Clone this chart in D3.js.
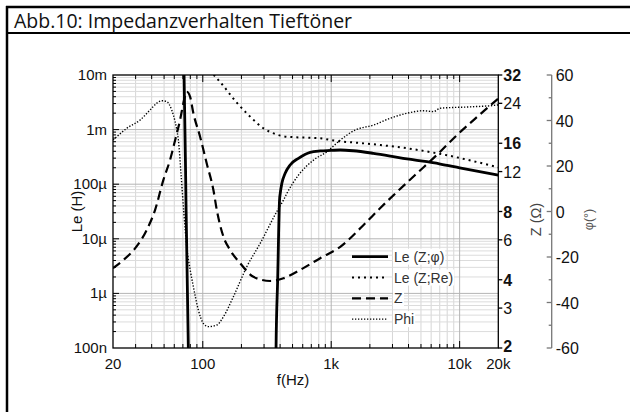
<!DOCTYPE html>
<html>
<head>
<meta charset="utf-8">
<script src="https://cdn.jsdelivr.net/npm/d3@7"></script>
<style>
  body { margin: 0; background: #fff; }
  svg { display: block; }
</style>
</head>
<body>
<svg id="chart" width="630" height="412"></svg>
<script>
// ---- axis ticks ----
const freqTicks = [20, 100, 1000, 10000, 20000];
const freqTickLabels = ["20", "100", "1k", "10k", "20k"];
const leTicks = [1e-7, 1e-6, 1e-5, 1e-4, 1e-3, 1e-2];
const leTickLabels = ["100n", "1µ", "10µ", "100µ", "1m", "10m"];
const zTicks = [2, 3, 4, 6, 8, 12, 16, 24, 32];
const zMajorTicks = [2, 4, 8, 16, 32];
const phiTicks = [-60, -40, -20, 0, 20, 40, 60];
const phiMinorTicks = [-50, -30, -10, 10, 30, 50];

// ---- measured series: [frequency in Hz, value] ----
// Le from |Z| and phase (H); two branches, undefined where phase < 0
const leZphiLow = [[70.5, 2e-2], [71.5, 1e-2], [74.2, 3.2e-5], [77.2, 1e-7], [77.6, 5e-8]];
const leZphiHigh = [[371, 5e-8], [372, 1e-7], [383, 1.8e-6], [396, 5.1e-5], [401, 6.8e-5],
  [413, 1.04e-4], [438, 1.58e-4], [479, 2.25e-4], [556, 2.98e-4], [686, 3.84e-4],
  [821, 4.06e-4], [1000, 4.15e-4], [1176, 4.23e-4], [1485, 4.1e-4], [2126, 3.68e-4],
  [2885, 3.28e-4], [3892, 2.9e-4], [5573, 2.58e-4], [7076, 2.34e-4], [10000, 2.0e-4],
  [20000, 1.47e-4]];
// Le from |Z| and Re (H)
const leZre = [[118, 1.3e-2], [122.5, 1e-2], [128.7, 8.7e-3], [140.7, 6.84e-3], [184, 3.11e-3],
  [220, 1.99e-3], [241, 1.61e-3], [297, 1.06e-3], [366, 8.3e-4], [452, 7.41e-4],
  [647, 7.11e-4], [821, 6.93e-4], [1108, 6.18e-4], [1587, 5.75e-4], [2411, 5.22e-4],
  [3892, 4.55e-4], [6670, 3.68e-4], [20000, 2.04e-4]];
// impedance magnitude (Ohm)
const zMag = [[20, 4.5], [24.1, 4.89], [29.7, 5.5], [36.6, 6.63], [42.5, 8.12], [49.3, 11.0],
  [55.6, 13.5], [60.9, 16.5], [66.6, 20.3], [71.5, 24.8], [75, 27.0], [79.6, 25.7],
  [84.5, 21.7], [95.3, 17.1], [107.5, 13.0], [121, 9.95], [128.7, 8.1], [144.8, 6.2],
  [163.3, 5.41], [195.4, 4.73], [248, 4.12], [334.6, 3.95], [425, 4.06], [573.5, 4.42],
  [821, 4.98], [1176, 5.59], [1787, 6.98], [2411, 8.29], [3252, 9.76], [4658, 11.8],
  [6466, 14.0], [9550, 17.4], [13670, 20.9], [20000, 25.2]];
// impedance phase (degrees)
const phiDeg = [[20, 31.5], [20.7, 32.2], [25.6, 36.6], [32.5, 40.2], [38.8, 44.6], [43.8, 47.6],
  [47.9, 48.7], [52.4, 48.3], [57.3, 44.6], [60.9, 39.5], [62.8, 35.8], [64.6, 31.4],
  [67.8, 16], [71.1, 0], [75, -15.5], [80, -26], [84.5, -33.1], [92.4, -43.3], [101, -49.2],
  [110.6, -50.6], [128.7, -49.9], [144.8, -46.3], [173, -37.5], [220, -24.3], [280, -14],
  [379, 0.2], [425, 5], [452, 8], [556, 16], [728, 22.6], [927, 26.3], [1176, 31.4],
  [1539, 35.8], [2137, 38], [2885, 41], [3892, 43.2], [5247, 44.3], [6240, 43.9],
  [7076, 45.4], [12130, 46], [19580, 46.8], [20000, 46.9]];

const legendItems = [
  { label: "Le (Z;φ)", dash: null, width: 2.8 },
  { label: "Le (Z;Re)", dash: "2,4", width: 2 },
  { label: "Z", dash: "9,5", width: 2.2 },
  { label: "Phi", dash: "1.3,1.7", width: 1.4 }
];

// ---- layout ----
const svg = d3.select("#chart");
const L = 113, R = 498.3, T = 75, B = 348;
const PHI_X = 551.7;

const x = d3.scaleLog().domain([20, 20000]).range([L, R]);
const yLe = d3.scaleLog().domain([1e-7, 1e-2]).range([B, T]);
const yZ = d3.scaleLog().base(2).domain([2, 32]).range([B, T]);
const yPhi = d3.scaleLinear().domain([-60, 60]).range([B, T]);

const AX_FONT = "'Liberation Sans', Arial, sans-serif";

// ---- outer frame and title ----
svg.append("line").attr("x1", 6).attr("x2", 630).attr("y1", 7).attr("y2", 7)
  .attr("stroke", "#000").attr("stroke-width", 2.5);
svg.append("line").attr("x1", 6).attr("x2", 630).attr("y1", 33).attr("y2", 33)
  .attr("stroke", "#000").attr("stroke-width", 2);
svg.append("line").attr("x1", 7).attr("x2", 7).attr("y1", 6).attr("y2", 412)
  .attr("stroke", "#000").attr("stroke-width", 2.5);
svg.append("text").attr("x", 14).attr("y", 28)
  .attr("font-family", "'Open Sans', sans-serif").attr("font-size", 19.5)
  .attr("fill", "#111").text("Abb.10: Impedanzverhalten Tieftöner");

// ---- grid ----
const xMinor = [];
[10, 100, 1000, 10000].forEach(d => { for (let m = 2; m <= 9; m++) { const v = d * m; if (v > 20 && v < 20000) xMinor.push(v); } });
const xMajor = [100, 1000, 10000];
const leMinor = [];
[1e-7, 1e-6, 1e-5, 1e-4, 1e-3].forEach(d => { for (let m = 2; m <= 9; m++) leMinor.push(d * m); });
const leMajor = [1e-6, 1e-5, 1e-4, 1e-3];

const grid = svg.append("g");
grid.selectAll(".gxm").data(xMinor).join("line")
  .attr("x1", d => x(d)).attr("x2", d => x(d)).attr("y1", T).attr("y2", B)
  .attr("stroke", "#d6d6d6").attr("stroke-width", 1);
grid.selectAll(".gym").data(leMinor).join("line")
  .attr("x1", L).attr("x2", R).attr("y1", d => yLe(d)).attr("y2", d => yLe(d))
  .attr("stroke", "#dcdcdc").attr("stroke-width", 1);
grid.selectAll(".gxM").data(xMajor).join("line")
  .attr("x1", d => x(d)).attr("x2", d => x(d)).attr("y1", T).attr("y2", B)
  .attr("stroke", "#b4b4b4").attr("stroke-width", 1);
grid.selectAll(".gyM").data(leMajor).join("line")
  .attr("x1", L).attr("x2", R).attr("y1", d => yLe(d)).attr("y2", d => yLe(d))
  .attr("stroke", "#b4b4b4").attr("stroke-width", 1);

// ---- inner ticks on the plot frame ----
const ticks = svg.append("g").attr("stroke", "#000").attr("stroke-width", 1);
xMinor.forEach(v => {
  ticks.append("line").attr("x1", x(v)).attr("x2", x(v)).attr("y1", B).attr("y2", B - 4);
  ticks.append("line").attr("x1", x(v)).attr("x2", x(v)).attr("y1", T).attr("y2", T + 4);
});
xMajor.forEach(v => {
  ticks.append("line").attr("x1", x(v)).attr("x2", x(v)).attr("y1", B).attr("y2", B - 7);
  ticks.append("line").attr("x1", x(v)).attr("x2", x(v)).attr("y1", T).attr("y2", T + 7);
});
leMinor.forEach(v => ticks.append("line").attr("x1", L).attr("x2", L + 3).attr("y1", yLe(v)).attr("y2", yLe(v)));
leMajor.forEach(v => ticks.append("line").attr("x1", L).attr("x2", L + 6).attr("y1", yLe(v)).attr("y2", yLe(v)));

// ---- curves ----
svg.append("clipPath").attr("id", "plotClip")
  .append("rect").attr("x", L).attr("y", T).attr("width", R - L).attr("height", B - T);
const plot = svg.append("g").attr("clip-path", "url(#plotClip)");

const lineLe = d3.line().x(d => x(d[0])).y(d => yLe(d[1])).curve(d3.curveMonotoneX);
const lineZ = d3.line().x(d => x(d[0])).y(d => yZ(d[1])).curve(d3.curveMonotoneX);
const linePhi = d3.line().x(d => x(d[0])).y(d => yPhi(d[1])).curve(d3.curveMonotoneX);

plot.append("path").attr("d", linePhi(phiDeg)).attr("fill", "none").attr("stroke", "#000")
  .attr("stroke-width", legendItems[3].width).attr("stroke-dasharray", legendItems[3].dash);
plot.append("path").attr("d", lineLe(leZre)).attr("fill", "none").attr("stroke", "#000")
  .attr("stroke-width", legendItems[1].width).attr("stroke-dasharray", legendItems[1].dash);
plot.append("path").attr("d", lineZ(zMag)).attr("fill", "none").attr("stroke", "#000")
  .attr("stroke-width", legendItems[2].width).attr("stroke-dasharray", legendItems[2].dash);
[leZphiLow, leZphiHigh].forEach(seg => {
  plot.append("path").attr("d", lineLe(seg)).attr("fill", "none").attr("stroke", "#000")
    .attr("stroke-width", legendItems[0].width);
});

// ---- plot frame ----
svg.append("rect").attr("x", L).attr("y", T).attr("width", R - L).attr("height", B - T)
  .attr("fill", "none").attr("stroke", "#000").attr("stroke-width", 1.3);

// ---- bottom axis labels ----
svg.append("g").selectAll("text").data(freqTicks).join("text")
  .attr("x", d => x(d)).attr("y", B + 20.5).attr("text-anchor", "middle")
  .attr("font-family", AX_FONT).attr("font-size", 15).attr("fill", "#111")
  .text((d, i) => freqTickLabels[i]);
svg.append("text").attr("x", 293).attr("y", 385).attr("text-anchor", "middle")
  .attr("font-family", AX_FONT).attr("font-size", 15).attr("fill", "#111").text("f(Hz)");

// ---- left axis labels ----
svg.append("g").selectAll("text").data(leTicks).join("text")
  .attr("x", L - 6).attr("y", d => yLe(d) + 5).attr("text-anchor", "end")
  .attr("font-family", AX_FONT).attr("font-size", 15).attr("fill", "#111")
  .text((d, i) => leTickLabels[i]);
svg.append("text").attr("transform", `translate(82,${(T + B) / 2}) rotate(-90)`)
  .attr("text-anchor", "middle").attr("font-family", AX_FONT).attr("font-size", 15)
  .attr("fill", "#111").text("Le (H)");

// ---- right impedance axis ----
const zAxis = svg.append("g");
zTicks.forEach(v => {
  const major = zMajorTicks.includes(v);
  zAxis.append("line").attr("x1", R).attr("x2", R + 4).attr("y1", yZ(v)).attr("y2", yZ(v))
    .attr("stroke", "#000").attr("stroke-width", 1.3);
  zAxis.append("text").attr("x", R + 5).attr("y", yZ(v) + (v === 2 ? 3.5 : 6))
    .attr("font-family", AX_FONT).attr("font-size", 16).attr("fill", "#111")
    .attr("font-weight", major ? "bold" : "normal").text(v);
});
svg.append("text").attr("transform", `translate(541,${(T + B) / 2 + 8}) rotate(-90)`)
  .attr("text-anchor", "middle").attr("font-family", AX_FONT).attr("font-size", 14.5)
  .attr("fill", "#444").text("Z (Ω)");

// ---- phase axis ----
const phiAxis = svg.append("g");
phiAxis.append("line").attr("x1", PHI_X).attr("x2", PHI_X).attr("y1", T).attr("y2", B)
  .attr("stroke", "#777").attr("stroke-width", 1.3);
phiTicks.forEach(v => {
  phiAxis.append("line").attr("x1", PHI_X - 5).attr("x2", PHI_X).attr("y1", yPhi(v)).attr("y2", yPhi(v))
    .attr("stroke", "#777").attr("stroke-width", 1.3);
  phiAxis.append("text").attr("x", PHI_X + 4).attr("y", yPhi(v) + 6)
    .attr("font-family", AX_FONT).attr("font-size", 16).attr("fill", "#111").text(v);
});
phiMinorTicks.forEach(v => {
  phiAxis.append("line").attr("x1", PHI_X - 3).attr("x2", PHI_X).attr("y1", yPhi(v)).attr("y2", yPhi(v))
    .attr("stroke", "#777").attr("stroke-width", 1.3);
});
svg.append("text").attr("transform", `translate(593,${(T + B) / 2 + 8}) rotate(-90)`)
  .attr("text-anchor", "middle").attr("font-family", AX_FONT).attr("font-size", 12.5)
  .attr("fill", "#555").text("φ(°)");

// ---- legend ----
const legend = svg.append("g");
legendItems.forEach((it, i) => {
  const cy = 256.7 + i * 20.8;
  const t = legend.append("text").attr("x", 394).attr("y", cy + 5)
    .attr("font-family", AX_FONT).attr("font-size", 14).attr("fill", "#333").text(it.label);
  const bb = t.node().getBBox();
  legend.insert("rect", "text").attr("x", bb.x - 1).attr("y", bb.y).attr("width", bb.width + 2)
    .attr("height", bb.height).attr("fill", "#fff");
  const ln = legend.append("line").attr("x1", 352).attr("x2", 388).attr("y1", cy).attr("y2", cy)
    .attr("stroke", "#000").attr("stroke-width", it.width);
  if (it.dash) ln.attr("stroke-dasharray", it.dash);
});
</script>
</body>
</html>
